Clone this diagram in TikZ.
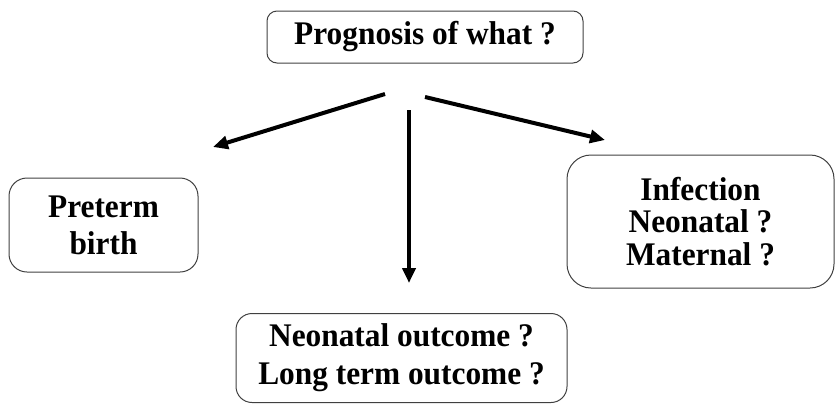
\documentclass[tikz,border=0pt]{standalone}
\usepackage{fontspec}
\setmainfont[FakeStretch=0.95]{Liberation Serif}
\usetikzlibrary{arrows.meta}
\begin{document}
\begin{tikzpicture}[x=1pt,y=-1pt,
  box/.style={draw=black!75,line width=1pt,rounded corners=18pt,align=center,
    inner sep=0pt,font=\bfseries\fontsize{33}{37}\selectfont},
  arr/.style={line width=4pt,-{Triangle[length=15pt,width=13pt]}}]
\useasboundingbox (0,0) rectangle (836,405);
\node[box,rounded corners=10pt,minimum width=316pt,minimum height=52pt] (top) at (425,37) {Prognosis of what ?};
\node[box,minimum width=189pt,minimum height=94pt] (pre) at (103.5,225) {Preterm\\birth};
\node[box,rounded corners=24pt,minimum width=267pt,minimum height=133pt,
  font=\bfseries\fontsize{33}{32.5}\selectfont] (inf) at (700.5,221.5) {Infection\\Neonatal ?\\Maternal ?};
\node[box,rounded corners=16pt,minimum width=331pt,minimum height=89pt,
  font=\bfseries\fontsize{33}{38}\selectfont] (out) at (401.5,358) {Neonatal outcome ?\\Long term outcome ?};
\coordinate (s1) at (385,94);
\coordinate (e1) at (213,147);
\coordinate (s2) at (409,110);
\coordinate (e2) at (409,283);
\coordinate (s3) at (425,97);
\coordinate (e3) at (605,140);
\draw[arr] (s1) -- (e1);
\draw[arr] (s2) -- (e2);
\draw[arr] (s3) -- (e3);
\end{tikzpicture}
\end{document}
